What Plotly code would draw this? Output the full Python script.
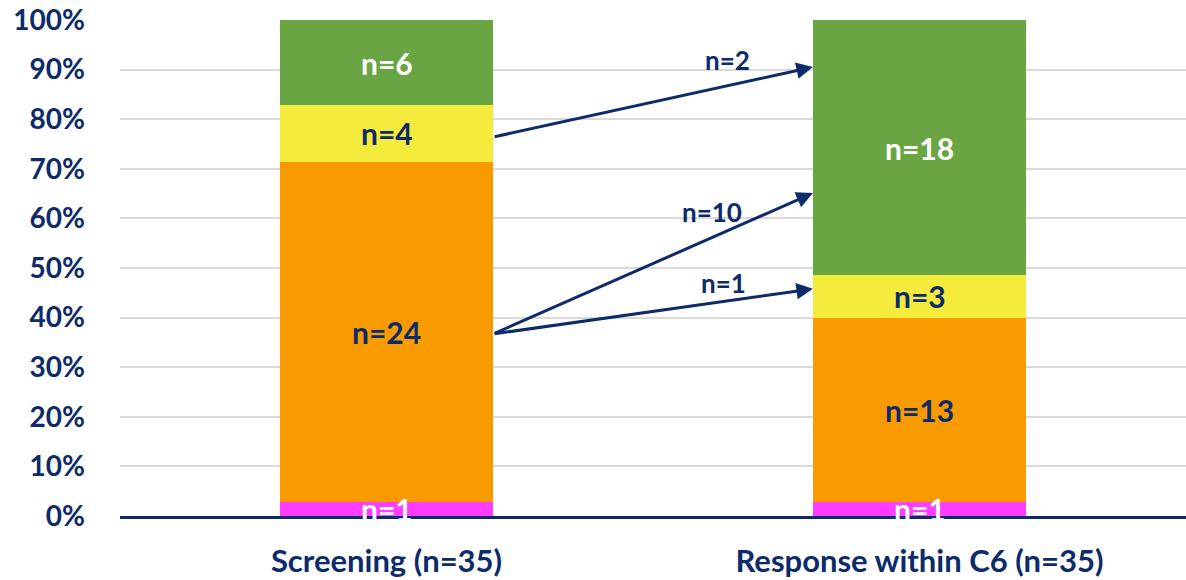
import plotly.graph_objects as go
import numpy as np

categories = ["Screening (n=35)", "Response within C6 (n=35)"]
series_names = ["Magenta", "Orange", "Yellow", "Green"]
counts = {
    "Magenta": [1, 1],
    "Orange": [24, 13],
    "Yellow": [4, 3],
    "Green": [6, 18],
}
colors = {"Magenta": "#ff3cff", "Orange": "#f99b00", "Yellow": "#f4eb3c", "Green": "#6aa543"}
label_colors = {"Magenta": "white", "Orange": "#0d2a6b", "Yellow": "#0d2a6b", "Green": "white"}
totals = [35, 35]

# transition arrows: (label, from y%, to y%, label x, label y%)
arrow_labels = ["n=2", "n=10", "n=1"]
arrow_from = [76.4, 36.7, 36.7]
arrow_to = [90.5, 65.1, 45.8]
arrow_label_x = [0.64, 0.61, 0.633]
arrow_label_y = [92.0, 61.3, 47.0]

NAVY = "#0d2a6b"
FONT = "Lato"

fig = go.Figure()
pct = {s: [100.0 * v / t for v, t in zip(counts[s], totals)] for s in series_names}
for s in series_names:
    fig.add_trace(go.Bar(x=[0, 1], y=pct[s], name=s, marker=dict(color=colors[s], line=dict(width=0)),
                         width=0.4, hoverinfo="skip"))

annotations = []
base = np.zeros(2)
for s in series_names:
    vals = np.array(pct[s])
    mids = base + vals / 2
    for i in range(2):
        annotations.append(dict(x=i, y=mids[i], xref="x", yref="y", text=f"<b>n={counts[s][i]}</b>",
                                showarrow=False, font=dict(family=FONT, size=30, color=label_colors[s])))
    base = base + vals

for lab, fy, ty, lx, ly in zip(arrow_labels, arrow_from, arrow_to, arrow_label_x, arrow_label_y):
    annotations.append(dict(x=0.8, y=ty, ax=0.2, ay=fy, xref="x", yref="y", axref="x", ayref="y",
                            text="", showarrow=True, arrowhead=2, arrowsize=1.1, arrowwidth=3,
                            arrowcolor=NAVY, standoff=0, startstandoff=0))
    annotations.append(dict(x=lx, y=ly, xref="x", yref="y", text=f"<b>{lab}</b>", showarrow=False,
                            font=dict(family=FONT, size=26, color=NAVY)))

fig.update_layout(
    barmode="stack",
    width=1186, height=580,
    margin=dict(l=120, r=0, t=20, b=64),
    plot_bgcolor="white", paper_bgcolor="white",
    showlegend=False,
    annotations=annotations,
    font=dict(family=FONT, color=NAVY),
)
fig.update_xaxes(
    range=[-0.5, 1.5], tickmode="array", tickvals=[0, 1],
    ticktext=[f"<b>{c}</b>" for c in categories],
    tickfont=dict(family=FONT, size=31, color=NAVY),
    showline=True, linecolor=NAVY, linewidth=3, showgrid=False, zeroline=False,
    ticks="", ticklabelstandoff=16, automargin=False,
)
fig.update_yaxes(
    range=[0, 100], tickvals=list(range(0, 101, 10)),
    ticktext=[f"<b>{v}%</b>" for v in range(0, 101, 10)],
    tickfont=dict(family=FONT, size=28, color=NAVY),
    showgrid=True, gridcolor="#d9d9d9", gridwidth=2, zeroline=False, showline=False,
    ticks="", ticklabelstandoff=34, automargin=False,
)

fig.write_html("out.html", config={"displayModeBar": False},
               post_script="document.body.style.margin='0';document.body.style.padding='0';")
